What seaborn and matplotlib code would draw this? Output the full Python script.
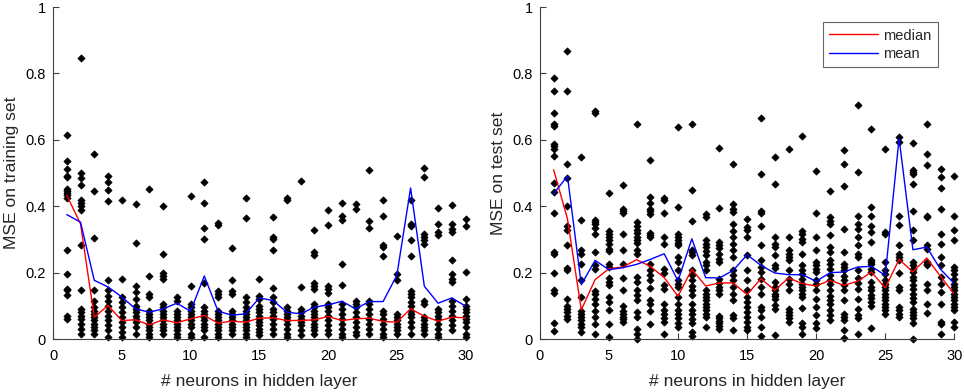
import numpy as np
import pandas as pd
import matplotlib
matplotlib.use('Agg')
import matplotlib.pyplot as plt
import seaborn as sns

# number of neurons in hidden layer
neurons = list(range(1, 31))

# MSE of each run on the training set, one list per neuron count
train_points = [
    [0.615, 0.537, 0.512, 0.491, 0.488, 0.453, 0.446, 0.44, 0.433, 0.425, 0.267, 0.197, 0.152, 0.147, 0.132, 0.071, 0.061],
    [0.847, 0.499, 0.485, 0.463, 0.42, 0.41, 0.40, 0.39, 0.284, 0.147, 0.091, 0.081, 0.071, 0.061, 0.046, 0.031, 0.016],
    [0.558, 0.446, 0.304, 0.147, 0.116, 0.096, 0.086, 0.076, 0.066, 0.056, 0.046, 0.036, 0.026, 0.016],
    [0.492, 0.473, 0.449, 0.417, 0.177, 0.147, 0.131, 0.116, 0.101, 0.086, 0.071, 0.056, 0.041, 0.026, 0.006],
    [0.42, 0.182, 0.127, 0.111, 0.096, 0.081, 0.066, 0.051, 0.036, 0.021, 0.006],
    [0.408, 0.29, 0.16, 0.141, 0.121, 0.101, 0.091, 0.081, 0.071, 0.061, 0.051, 0.036, 0.016],
    [0.452, 0.189, 0.136, 0.126, 0.086, 0.076, 0.066, 0.056, 0.046, 0.036, 0.026, 0.016, 0.006],
    [0.40, 0.257, 0.2, 0.19, 0.18, 0.106, 0.096, 0.086, 0.076, 0.066, 0.056, 0.046, 0.036, 0.026, 0.016],
    [0.126, 0.116, 0.086, 0.076, 0.066, 0.056, 0.046, 0.036, 0.026, 0.016, 0.006],
    [0.431, 0.16, 0.106, 0.096, 0.086, 0.076, 0.066, 0.056, 0.046, 0.036, 0.016, 0.006],
    [0.473, 0.41, 0.334, 0.30, 0.17, 0.096, 0.086, 0.076, 0.066, 0.056, 0.046, 0.036, 0.026, 0.006],
    [0.35, 0.345, 0.146, 0.136, 0.126, 0.086, 0.076, 0.066, 0.056, 0.046, 0.036, 0.026, 0.016, 0.006],
    [0.275, 0.179, 0.146, 0.136, 0.086, 0.076, 0.066, 0.056, 0.046, 0.036, 0.026, 0.016],
    [0.426, 0.366, 0.126, 0.111, 0.096, 0.086, 0.076, 0.066, 0.056, 0.046, 0.036, 0.026, 0.016, 0.006],
    [0.182, 0.131, 0.121, 0.101, 0.091, 0.081, 0.071, 0.061, 0.051, 0.041, 0.031, 0.021, 0.011],
    [0.369, 0.307, 0.30, 0.269, 0.155, 0.126, 0.111, 0.091, 0.081, 0.071, 0.061, 0.046, 0.031, 0.016],
    [0.426, 0.418, 0.096, 0.086, 0.076, 0.066, 0.056, 0.046, 0.031, 0.016, 0.006],
    [0.477, 0.157, 0.091, 0.081, 0.071, 0.061, 0.051, 0.041, 0.026, 0.011],
    [0.33, 0.262, 0.254, 0.17, 0.16, 0.15, 0.106, 0.096, 0.086, 0.076, 0.066, 0.056, 0.046, 0.036, 0.026, 0.016],
    [0.39, 0.344, 0.159, 0.15, 0.14, 0.106, 0.096, 0.086, 0.071, 0.056, 0.041, 0.026, 0.016],
    [0.41, 0.37, 0.36, 0.225, 0.162, 0.106, 0.091, 0.076, 0.061, 0.046, 0.031, 0.016, 0.006],
    [0.408, 0.393, 0.116, 0.106, 0.096, 0.081, 0.066, 0.051, 0.036, 0.021, 0.011],
    [0.509, 0.357, 0.335, 0.116, 0.106, 0.091, 0.076, 0.061, 0.046, 0.031, 0.016],
    [0.418, 0.372, 0.282, 0.277, 0.249, 0.086, 0.076, 0.061, 0.046, 0.031, 0.016, 0.006],
    [0.31, 0.197, 0.177, 0.076, 0.066, 0.056, 0.046, 0.036, 0.026, 0.016],
    [0.42, 0.347, 0.342, 0.297, 0.249, 0.146, 0.136, 0.126, 0.111, 0.101, 0.086, 0.076, 0.066, 0.051, 0.036, 0.016],
    [0.516, 0.488, 0.317, 0.307, 0.297, 0.287, 0.116, 0.106, 0.066, 0.056, 0.046, 0.036, 0.026, 0.016],
    [0.396, 0.347, 0.322, 0.312, 0.091, 0.081, 0.071, 0.061, 0.046, 0.031, 0.016, 0.006],
    [0.405, 0.347, 0.332, 0.322, 0.237, 0.197, 0.182, 0.172, 0.116, 0.101, 0.086, 0.071, 0.056, 0.041, 0.026],
    [0.362, 0.342, 0.202, 0.121, 0.101, 0.091, 0.081, 0.071, 0.061, 0.051, 0.036, 0.016, 0.006],
]

# MSE of each run on the test set
test_points = [
    [0.787, 0.746, 0.681, 0.649, 0.641, 0.588, 0.581, 0.573, 0.551, 0.47, 0.443, 0.38, 0.262, 0.257, 0.2, 0.147, 0.14, 0.048, 0.023],
    [0.869, 0.748, 0.527, 0.485, 0.40, 0.342, 0.329, 0.284, 0.214, 0.207, 0.121, 0.101, 0.091, 0.081, 0.071, 0.061],
    [0.548, 0.359, 0.267, 0.257, 0.225, 0.177, 0.127, 0.086, 0.076, 0.066, 0.056, 0.046, 0.036, 0.021],
    [0.688, 0.681, 0.36, 0.352, 0.347, 0.334, 0.317, 0.262, 0.222, 0.212, 0.146, 0.136, 0.121, 0.106, 0.086, 0.068, 0.046, 0.014],
    [0.441, 0.325, 0.317, 0.307, 0.297, 0.287, 0.272, 0.266, 0.226, 0.216, 0.184, 0.171, 0.163, 0.126, 0.111, 0.088, 0.046, 0.006],
    [0.463, 0.392, 0.385, 0.379, 0.317, 0.269, 0.225, 0.185, 0.147, 0.101, 0.086, 0.076, 0.068, 0.061, 0.051],
    [0.648, 0.352, 0.342, 0.33, 0.32, 0.307, 0.297, 0.289, 0.269, 0.257, 0.187, 0.172, 0.147, 0.132, 0.117, 0.081, 0.068, 0.031, 0.014, 0.001],
    [0.538, 0.428, 0.41, 0.393, 0.385, 0.377, 0.319, 0.312, 0.307, 0.225, 0.207, 0.192, 0.177, 0.154, 0.117, 0.107, 0.084, 0.044],
    [0.425, 0.418, 0.38, 0.307, 0.287, 0.21, 0.2, 0.164, 0.15, 0.107, 0.087, 0.075, 0.062, 0.052, 0.014],
    [0.638, 0.398, 0.317, 0.307, 0.297, 0.29, 0.282, 0.247, 0.232, 0.207, 0.179, 0.167, 0.157, 0.127, 0.107, 0.087, 0.075, 0.062, 0.049, 0.035],
    [0.648, 0.448, 0.357, 0.269, 0.262, 0.252, 0.207, 0.192, 0.177, 0.159, 0.147, 0.132, 0.107, 0.087, 0.077, 0.059, 0.047, 0.022, 0.009],
    [0.377, 0.367, 0.297, 0.287, 0.277, 0.264, 0.252, 0.232, 0.222, 0.209, 0.147, 0.137, 0.127, 0.117, 0.107, 0.097, 0.087, 0.077, 0.067, 0.035],
    [0.577, 0.396, 0.292, 0.282, 0.274, 0.257, 0.242, 0.232, 0.182, 0.169, 0.157, 0.147, 0.137, 0.069, 0.062, 0.055, 0.047, 0.039, 0.031],
    [0.527, 0.407, 0.392, 0.382, 0.347, 0.327, 0.307, 0.287, 0.267, 0.247, 0.207, 0.192, 0.177, 0.157, 0.137, 0.117, 0.072, 0.062, 0.027],
    [0.362, 0.337, 0.329, 0.307, 0.252, 0.207, 0.177, 0.147, 0.127, 0.112, 0.097, 0.082, 0.067, 0.052, 0.037, 0.027],
    [0.666, 0.498, 0.387, 0.379, 0.342, 0.282, 0.237, 0.217, 0.202, 0.182, 0.157, 0.137, 0.097, 0.087, 0.067, 0.037, 0.009],
    [0.548, 0.467, 0.307, 0.287, 0.277, 0.252, 0.222, 0.215, 0.172, 0.157, 0.147, 0.137, 0.129, 0.122, 0.102, 0.092, 0.012],
    [0.573, 0.307, 0.267, 0.257, 0.247, 0.237, 0.207, 0.182, 0.167, 0.147, 0.092, 0.082, 0.072, 0.062, 0.052],
    [0.612, 0.327, 0.317, 0.302, 0.292, 0.257, 0.222, 0.207, 0.197, 0.182, 0.167, 0.157, 0.147, 0.137, 0.127, 0.095, 0.049, 0.037, 0.014],
    [0.505, 0.379, 0.307, 0.267, 0.232, 0.222, 0.212, 0.202, 0.177, 0.167, 0.147, 0.122, 0.097, 0.072, 0.049, 0.032],
    [0.447, 0.367, 0.357, 0.347, 0.312, 0.277, 0.262, 0.237, 0.227, 0.212, 0.192, 0.177, 0.167, 0.147, 0.129, 0.117, 0.105, 0.087, 0.072, 0.057],
    [0.569, 0.527, 0.46, 0.332, 0.262, 0.227, 0.217, 0.207, 0.189, 0.177, 0.162, 0.147, 0.117, 0.077, 0.067, 0.057, 0.027, 0.002],
    [0.705, 0.502, 0.372, 0.347, 0.332, 0.307, 0.282, 0.257, 0.247, 0.207, 0.185, 0.169, 0.152, 0.122, 0.092, 0.072, 0.062, 0.015],
    [0.634, 0.399, 0.372, 0.342, 0.322, 0.292, 0.237, 0.232, 0.225, 0.212, 0.202, 0.172, 0.157, 0.147, 0.132, 0.125, 0.112, 0.099, 0.032],
    [0.573, 0.322, 0.317, 0.232, 0.207, 0.197, 0.177, 0.167, 0.157, 0.147, 0.137, 0.127, 0.117, 0.107, 0.097, 0.087, 0.077],
    [0.61, 0.595, 0.372, 0.344, 0.282, 0.257, 0.247, 0.237, 0.199, 0.157, 0.147, 0.097, 0.087, 0.077, 0.067],
    [0.59, 0.51, 0.502, 0.496, 0.467, 0.387, 0.329, 0.297, 0.232, 0.222, 0.212, 0.202, 0.187, 0.177, 0.162, 0.152, 0.137, 0.125, 0.112, 0.092, 0.082, 0.072, 0.062, 0.049, 0.001],
    [0.649, 0.556, 0.523, 0.372, 0.367, 0.282, 0.272, 0.232, 0.227, 0.222, 0.167, 0.147, 0.107, 0.079],
    [0.513, 0.488, 0.456, 0.392, 0.317, 0.287, 0.247, 0.222, 0.187, 0.167, 0.142, 0.107, 0.052, 0.045, 0.015],
    [0.491, 0.372, 0.329, 0.297, 0.217, 0.207, 0.197, 0.182, 0.167, 0.157, 0.147, 0.137, 0.127, 0.117, 0.107, 0.097, 0.087, 0.052, 0.037],
]

# summary lines
train_median = [0.433, 0.347, 0.066, 0.101, 0.056, 0.058, 0.043, 0.058, 0.049, 0.061,
                0.071, 0.048, 0.054, 0.051, 0.063, 0.064, 0.056, 0.056, 0.058, 0.068,
                0.056, 0.061, 0.063, 0.053, 0.051, 0.091, 0.069, 0.054, 0.066, 0.064]
train_mean = [0.375, 0.352, 0.177, 0.157, 0.127, 0.091, 0.081, 0.091, 0.108, 0.084,
              0.19, 0.084, 0.072, 0.076, 0.124, 0.116, 0.081, 0.076, 0.096, 0.103,
              0.114, 0.091, 0.113, 0.113, 0.192, 0.455, 0.159, 0.108, 0.124, 0.099]
test_median = [0.51, 0.362, 0.088, 0.179, 0.212, 0.217, 0.239, 0.219, 0.185, 0.129,
               0.21, 0.16, 0.169, 0.169, 0.134, 0.182, 0.147, 0.184, 0.167, 0.16,
               0.177, 0.162, 0.174, 0.202, 0.154, 0.24, 0.202, 0.244, 0.189, 0.135]
test_mean = [0.438, 0.491, 0.164, 0.237, 0.209, 0.215, 0.225, 0.24, 0.257, 0.175,
             0.302, 0.185, 0.184, 0.207, 0.254, 0.222, 0.199, 0.194, 0.194, 0.174,
             0.2, 0.202, 0.217, 0.219, 0.192, 0.605, 0.269, 0.277, 0.21, 0.167]


def to_long(points):
    xs, ys = [], []
    for n, vals in zip(neurons, points):
        xs += [n] * len(vals)
        ys += vals
    return pd.DataFrame({'neurons': xs, 'mse': ys})


sns.set_style('ticks')
plt.rcParams['font.family'] = ['Liberation Sans', 'DejaVu Sans']
plt.rcParams['xtick.direction'] = 'in'
plt.rcParams['ytick.direction'] = 'in'

fig = plt.figure(figsize=(9.64, 3.92), dpi=100)
ax1 = fig.add_axes([0.055, 0.135, 0.428, 0.847])
ax2 = fig.add_axes([0.560, 0.135, 0.430, 0.847])

panels = [
    (ax1, train_points, train_median, train_mean, 'MSE on training set'),
    (ax2, test_points, test_median, test_mean, 'MSE on test set'),
]

for ax, pts, med, mean, ylab in panels:
    df = to_long(pts)
    sns.scatterplot(data=df, x='neurons', y='mse', ax=ax, marker='D', s=13,
                    color='black', edgecolor='black', linewidth=0.6,
                    clip_on=False, zorder=2, legend=False)
    sns.lineplot(x=neurons, y=med, ax=ax, color='#ff0000', linewidth=1.0,
                 label='median', zorder=3)
    sns.lineplot(x=neurons, y=mean, ax=ax, color='#0000ff', linewidth=1.0,
                 label='mean', zorder=3)
    ax.set_xlim(0, 30)
    ax.set_ylim(0, 1)
    ax.set_xticks([0, 5, 10, 15, 20, 25, 30])
    ax.set_yticks([0, 0.2, 0.4, 0.6, 0.8, 1])
    ax.set_yticklabels(['0', '0.2', '0.4', '0.6', '0.8', '1'])
    ax.tick_params(labelsize=10.5, length=4, width=0.8, colors='#404040',
                   labelcolor='black')
    ax.tick_params(axis='x', pad=7)
    ax.tick_params(axis='y', pad=5)
    ax.set_xlabel('# neurons in hidden layer', fontsize=12.6, labelpad=8)
    ax.set_ylabel(ylab, fontsize=12.6, labelpad=5)
    for side in ['top', 'right']:
        ax.spines[side].set_visible(False)
    for side in ['left', 'bottom']:
        ax.spines[side].set_color('#404040')
        ax.spines[side].set_linewidth(0.8)

ax1.get_legend().remove()
leg = ax2.legend(loc='upper right', bbox_to_anchor=(0.961, 0.955),
                 borderaxespad=0, fontsize=10.5, frameon=True, fancybox=False,
                 handlelength=3.3, handletextpad=0.4,
                 borderpad=0.45, labelspacing=0.3)
leg.get_frame().set_edgecolor('#404040')
leg.get_frame().set_linewidth(0.8)

fig.savefig('out.png', dpi=100)
